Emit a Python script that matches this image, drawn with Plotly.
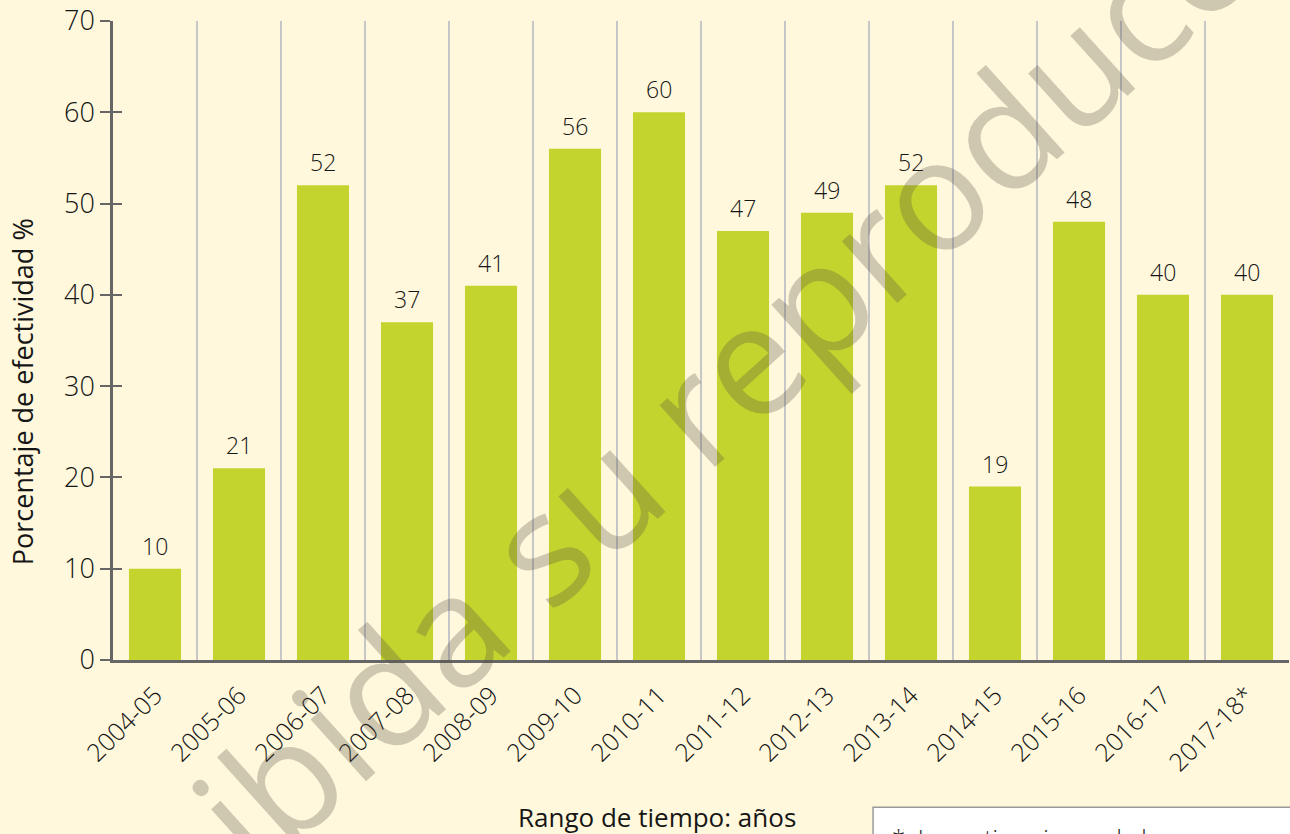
import plotly.graph_objects as go

# Seasons and effectiveness percentages
temporadas = ["2004-05", "2005-06", "2006-07", "2007-08", "2008-09", "2009-10", "2010-11",
              "2011-12", "2012-13", "2013-14", "2014-15", "2015-16", "2016-17", "2017-18*"]
efectividad = [10, 21, 52, 37, 41, 56, 60, 47, 49, 52, 19, 48, 40, 40]
y_ticks = [0, 10, 20, 30, 40, 50, 60, 70]

FONT = "Open Sans"
BG = "#FFF8DC"
BAR = "#C3D42E"
AXIS = "#666666"
TEXT = "#161616"

fig = go.Figure()
fig.add_trace(go.Bar(
    x=temporadas, y=efectividad, width=0.62,
    marker=dict(color=BAR, line=dict(width=0)),
    hoverinfo="x+y", showlegend=False,
))
# helper trace so the overlaid axis (inner half of the y ticks) is drawn
fig.add_trace(go.Scatter(
    x=[temporadas[0]], y=[0], yaxis="y2", mode="markers",
    marker=dict(opacity=0), hoverinfo="skip", showlegend=False,
))

annotations = []
# value labels above each bar
for cat, val in zip(temporadas, efectividad):
    annotations.append(dict(
        x=cat, y=val, xref="x", yref="y", text=str(val), showarrow=False,
        yanchor="middle", yshift=23,
        font=dict(family=FONT, size=23, color=TEXT, weight=300),
    ))

# axis titles
annotations.append(dict(
    x=-0.0774, y=0.4206, xref="paper", yref="paper", text="Porcentaje de efectividad %",
    textangle=-90, showarrow=False, xanchor="center", yanchor="middle",
    font=dict(family=FONT, size=27, color=TEXT, weight=400),
))
annotations.append(dict(
    x=0.4626, y=-0.246, xref="paper", yref="paper", text="Rango de tiempo: años",
    showarrow=False, xanchor="center", yanchor="middle",
    font=dict(family=FONT, size=26, color=TEXT, weight=500),
))

# footnote box
annotations.append(dict(
    x=0.6607, y=-0.249, xref="paper", yref="paper", text="*  Las estimaciones de la",
    showarrow=False, xanchor="left", yanchor="top", align="left",
    font=dict(family=FONT, size=24, color=TEXT, weight=300),
))

# watermark
annotations.append(dict(
    x=0.4753, y=0.3685, xref="paper", yref="paper", text="Prohibida su reproducción",
    textangle=-42, showarrow=False, xanchor="center", yanchor="middle",
    font=dict(family=FONT, size=155, color="rgba(84,76,63,0.28)"),
))

fig.update_layout(
    width=1290, height=834,
    margin=dict(l=113, r=1, t=18, b=174),
    paper_bgcolor=BG, plot_bgcolor=BG,
    bargap=0.38,
    xaxis=dict(
        type="category", tickson="boundaries",
        showgrid=True, gridcolor="#C6C6C8", gridwidth=1.5,
        showline=True, linecolor=AXIS, linewidth=2.5,
        ticks="", tickangle=-45, ticklabelstandoff=8,
        tickfont=dict(family=FONT, size=25, color=TEXT, weight=300),
        range=[-0.5, len(temporadas) - 0.5],
    ),
    yaxis=dict(
        range=[0, 70], tickvals=y_ticks, ticklabeloverflow="allow",
        showgrid=False, zeroline=False,
        showline=True, linecolor=AXIS, linewidth=2.5,
        ticks="outside", ticklen=10, tickwidth=1.5, tickcolor=AXIS,
        tickfont=dict(family=FONT, size=27, color=TEXT, weight=300),
    ),
    yaxis2=dict(
        overlaying="y", side="left", range=[0, 70], tickvals=y_ticks,
        showgrid=False, zeroline=False, showline=False,
        ticks="inside", ticklen=9, tickwidth=1.5, tickcolor=AXIS,
        showticklabels=False,
    ),
    shapes=[dict(
        type="rect", xref="paper", yref="paper",
        x0=0.6463, x1=1.2, y0=-0.2305, y1=-0.6,
        line=dict(color="#999999", width=1.5), fillcolor="white", layer="below",
    )],
    annotations=annotations,
)

fig.write_html("out.html")
